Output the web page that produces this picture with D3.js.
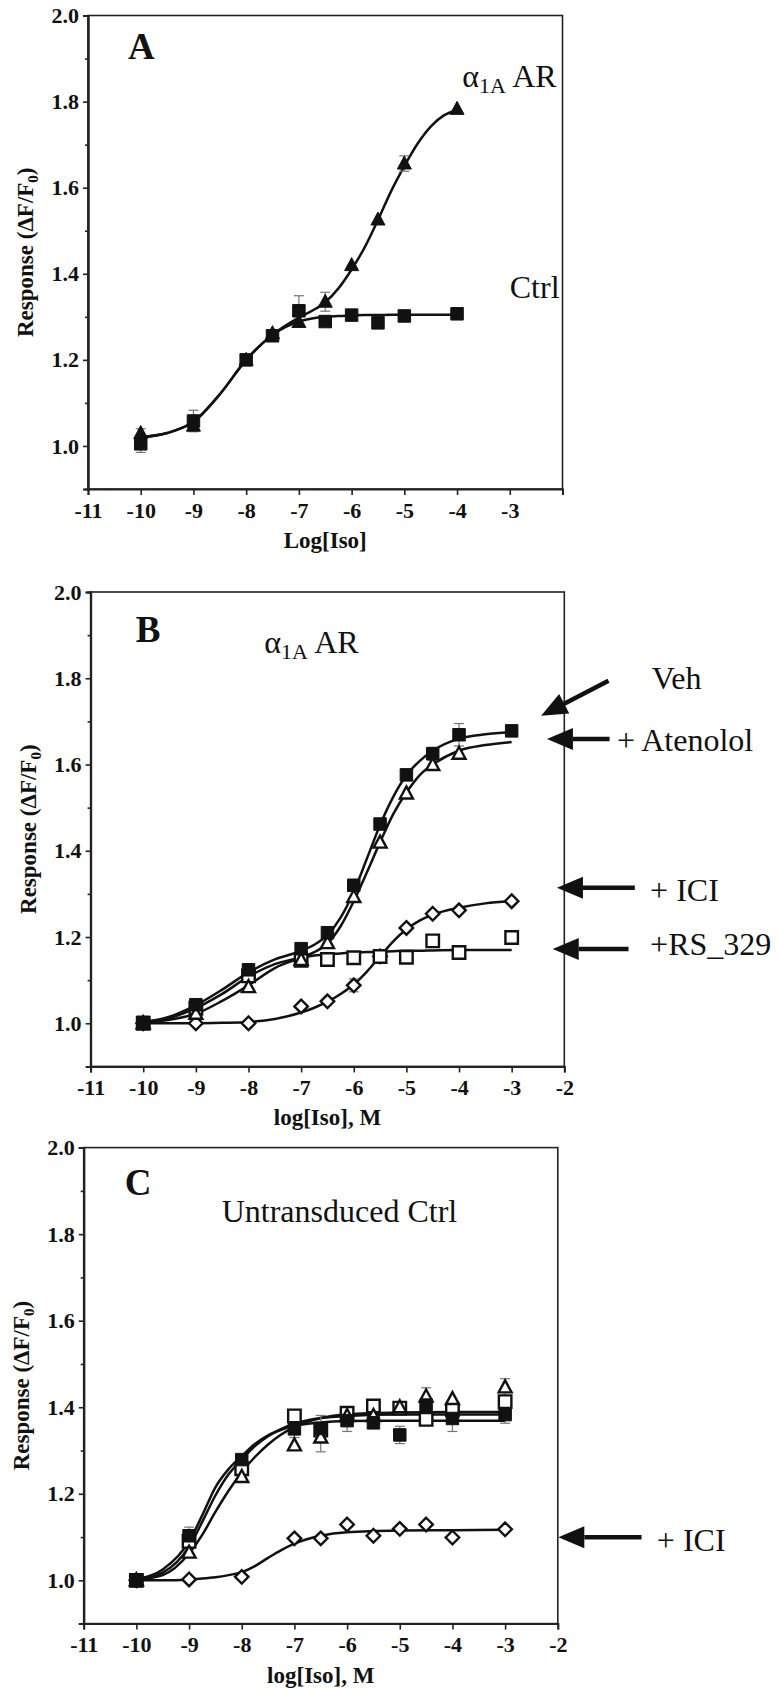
<!DOCTYPE html>
<html>
<head>
<meta charset="utf-8">
<script src="https://cdnjs.cloudflare.com/ajax/libs/d3/7.8.5/d3.min.js"></script>
<style>
  body { margin: 0; background: #fff; }
  svg { display: block; }
  text { font-family: "Liberation Serif", "Times New Roman", serif; fill: #111; }
</style>
</head>
<body>
<svg id="fig" width="781" height="1690"></svg>
<script>
// ---- panel A : alpha1A AR vs Ctrl ----
var xA = [-10, -9, -8, -7.5, -7, -6.5, -6, -5.5, -5, -4];
var aAlpha    = [1.03, 1.047, 1.20, 1.262, 1.288, 1.335, 1.42, 1.526, 1.656, 1.783];
var aAlphaErr = [0.01, 0, 0, 0, 0, 0.022, 0, 0, 0.018, 0];
var aCtrl     = [1.005, 1.058, 1.20, 1.256, 1.314, 1.289, 1.304, 1.286, 1.302, 1.307];
var aCtrlErr  = [0.02, 0.025, 0, 0, 0.035, 0, 0, 0, 0, 0.01];

var fitXA     = [-10, -9.5, -9, -8.5, -8, -7.5, -7, -6.75, -6.5, -6.25, -6, -5.75, -5.5, -5.25, -5, -4.75, -4.5, -4.25, -4];
var aAlphaFit = [1.02, 1.03, 1.056, 1.12, 1.20, 1.258, 1.298, 1.314, 1.334, 1.366, 1.41, 1.462, 1.525, 1.592, 1.65, 1.702, 1.742, 1.768, 1.78];
var aCtrlFit  = [1.02, 1.03, 1.056, 1.12, 1.20, 1.258, 1.289, 1.296, 1.300, 1.302, 1.303, 1.304, 1.304, 1.305, 1.305, 1.305, 1.305, 1.305, 1.305];

// ---- panel B : alpha1A AR with antagonists ----
var xB = [-10, -9, -8, -7, -6.5, -6, -5.5, -5, -4.5, -4, -3];
var bVeh    = [1.002, 1.043, 1.124, 1.173, 1.21, 1.32, 1.462, 1.576, 1.625, 1.669, 1.678];
var bVehErr = [0, 0, 0, 0, 0, 0, 0, 0, 0.015, 0.026, 0];
var bAten   = [1.0, 1.022, 1.084, 1.147, 1.186, 1.293, 1.419, 1.533, 1.599, 1.625, null];
var bRs     = [1.0, 1.035, 1.11, 1.146, 1.148, 1.152, 1.155, 1.153, 1.191, 1.164, 1.199];
var bIci    = [1.0, 1.0, 1.0, 1.039, 1.051, 1.088, 1.155, 1.221, 1.254, 1.262, 1.283];
var bIciErr = [0, 0, 0, 0, 0, 0.015, 0, 0, 0, 0, 0];

var fitXB   = [-10, -9.5, -9, -8.5, -8, -7.5, -7, -6.75, -6.5, -6.25, -6, -5.75, -5.5, -5.25, -5, -4.75, -4.5, -4, -3.5, -3];
var bVehFit  = [1.003, 1.015, 1.042, 1.078, 1.118, 1.148, 1.168, 1.182, 1.205, 1.245, 1.305, 1.382, 1.46, 1.525, 1.575, 1.608, 1.632, 1.660, 1.670, 1.675];
var bAtenFit = [1.002, 1.008, 1.022, 1.052, 1.088, 1.128, 1.152, 1.165, 1.185, 1.225, 1.283, 1.350, 1.42, 1.485, 1.535, 1.575, 1.600, 1.632, 1.645, 1.652];
var bRsFit   = [1.002, 1.012, 1.035, 1.068, 1.108, 1.137, 1.152, 1.157, 1.160, 1.162, 1.164, 1.165, 1.166, 1.167, 1.168, 1.168, 1.169, 1.170, 1.170, 1.170];
var bIciFit  = [1.0, 1.0, 1.0, 1.001, 1.003, 1.01, 1.025, 1.036, 1.05, 1.068, 1.09, 1.12, 1.155, 1.19, 1.218, 1.238, 1.252, 1.268, 1.278, 1.283];

// ---- panel C : untransduced control ----
var xC = [-10, -9, -8, -7, -6.5, -6, -5.5, -5, -4.5, -4, -3];
var cVeh     = [1.0, 1.103, 1.279, 1.35, 1.351, 1.369, 1.364, 1.336, 1.405, 1.374, 1.383];
var cVehErr  = [0.015, 0.02, 0, 0.02, 0.03, 0.025, 0, 0.02, 0.04, 0.03, 0.02];
var cAten    = [1.0, 1.064, 1.239, 1.312, 1.33, 1.38, 1.38, 1.40, 1.425, 1.419, 1.446];
var cAtenErr = [0, 0, 0, 0, 0.033, 0, 0, 0, 0, 0, 0.02];
var cRs      = [1.0, 1.09, 1.258, 1.38, 1.347, 1.386, 1.403, 1.398, 1.372, 1.394, 1.413];
var cIci     = [1.0, 1.002, 1.008, 1.097, 1.097, 1.129, 1.103, 1.119, 1.129, 1.099, 1.118];

var fitXC    = [-10, -9.5, -9, -8.75, -8.5, -8.25, -8, -7.75, -7.5, -7.25, -7, -6.5, -6, -5, -4, -3];
var cVehFit  = [1.003, 1.025, 1.09, 1.15, 1.215, 1.257, 1.287, 1.315, 1.335, 1.348, 1.357, 1.365, 1.368, 1.369, 1.369, 1.369];
var cRsFit   = [1.002, 1.018, 1.078, 1.135, 1.196, 1.245, 1.279, 1.31, 1.333, 1.35, 1.362, 1.375, 1.380, 1.383, 1.383, 1.383];
var cAtenFit = [1.001, 1.012, 1.062, 1.105, 1.158, 1.207, 1.250, 1.285, 1.314, 1.337, 1.354, 1.375, 1.384, 1.388, 1.389, 1.389];
var cIciFit  = [1.0, 1.0, 1.002, 1.004, 1.007, 1.012, 1.019, 1.033, 1.052, 1.07, 1.085, 1.103, 1.111, 1.115, 1.116, 1.117];

// axis ticks
var yMajor = [1.0, 1.2, 1.4, 1.6, 1.8, 2.0];
var yMinor = [1.1, 1.3, 1.5, 1.7, 1.9];
var xTicks = [-11, -10, -9, -8, -7, -6, -5, -4, -3, -2];

var svg = d3.select("#fig");

// marker shapes
function sq(s) { return "M" + (-s/2) + "," + (-s/2) + "h" + s + "v" + s + "h" + (-s) + "Z"; }
function tri(w, h) { return "M0," + (-h*0.58) + "L" + (w/2) + "," + (h*0.42) + "L" + (-w/2) + "," + (h*0.42) + "Z"; }
function dia(s) { return "M0," + (-s/2) + "L" + (s/2) + ",0L0," + (s/2) + "L" + (-s/2) + ",0Z"; }

var markers = {
  fsq:  { d: sq(12.5),    fill: "#111", stroke: "#111", sw: 1 },
  osq:  { d: sq(12.5),    fill: "#fff", stroke: "#111", sw: 2.4 },
  ftri: { d: tri(14, 13), fill: "#111", stroke: "#111", sw: 1 },
  otri: { d: tri(13, 12), fill: "#fff", stroke: "#111", sw: 2.4 },
  odia: { d: dia(13.5),   fill: "#fff", stroke: "#111", sw: 2.4 }
};

function panel(p) {
  var g = svg.append("g");
  var x = d3.scaleLinear().domain([-11, -2]).range([p.left, p.right]);
  var y = d3.scaleLinear().domain([0.9, 2.0]).range([p.bottom, p.top]);

  // frame
  g.append("rect")
    .attr("x", p.left).attr("y", p.top)
    .attr("width", p.right - p.left).attr("height", p.bottom - p.top)
    .attr("fill", "none").attr("stroke", "#222").attr("stroke-width", 1.6);

  // y axis: major + minor
  g.append("g").attr("transform", "translate(" + p.left + ",0)")
    .call(d3.axisLeft(y).tickValues(yMajor).tickFormat(d3.format(".1f")).tickSize(5).tickPadding(4));
  g.append("g").attr("transform", "translate(" + p.left + ",0)")
    .call(d3.axisLeft(y).tickValues(yMinor).tickFormat("").tickSize(3));

  // x axis
  g.append("g").attr("transform", "translate(0," + p.bottom + ")")
    .call(d3.axisBottom(x).tickValues(xTicks)
      .tickFormat(function(d) { return (p.hideLast && d === -2) ? "" : d; })
      .tickSize(6).tickPadding(7));

  g.selectAll(".domain").attr("stroke", "#222").attr("stroke-width", 2);
  g.selectAll(".tick line").attr("stroke", "#222").attr("stroke-width", 1.6);
  g.selectAll(".tick text")
    .style("font-family", "'Liberation Serif', 'Times New Roman', serif")
    .style("font-weight", "bold").style("font-size", "22px").attr("fill", "#111");

  // axis titles
  var yl = g.append("text")
    .attr("transform", "translate(" + (p.left - 55) + "," + ((p.top + p.bottom) / 2) + ") rotate(-90)")
    .attr("text-anchor", "middle").style("font-weight", "bold").style("font-size", "23px");
  yl.append("tspan").text("Response (\u0394F/F");
  yl.append("tspan").text("0").style("font-size", "15px").attr("dy", 5);
  yl.append("tspan").text(")").attr("dy", -5);

  g.append("text")
    .attr("x", (p.left + p.right) / 2).attr("y", p.bottom + 59)
    .attr("text-anchor", "middle").style("font-weight", "bold").style("font-size", "23px")
    .text(p.xTitle);

  // fitted curves
  var line = d3.line().curve(d3.curveMonotoneX)
    .x(function(d) { return x(d[0]); }).y(function(d) { return y(d[1]); });
  p.fits.forEach(function(f) {
    g.append("path")
      .datum(f.xs.map(function(v, i) { return [v, f.ys[i]]; }))
      .attr("d", line).attr("fill", "none").attr("stroke", "#111").attr("stroke-width", 2.5);
  });

  // error bars
  p.series.forEach(function(s) {
    if (!s.err) return;
    var pts = s.xs.map(function(v, i) { return { x: v, y: s.ys[i], e: s.err[i] }; })
      .filter(function(d) { return d.y != null && d.e > 0; });
    var eb = g.append("g").attr("stroke", "#777").attr("stroke-width", 1.2);
    pts.forEach(function(d) {
      eb.append("line").attr("x1", x(d.x)).attr("x2", x(d.x))
        .attr("y1", y(d.y - d.e)).attr("y2", y(d.y + d.e));
      eb.append("line").attr("x1", x(d.x) - 5).attr("x2", x(d.x) + 5)
        .attr("y1", y(d.y + d.e)).attr("y2", y(d.y + d.e));
      eb.append("line").attr("x1", x(d.x) - 5).attr("x2", x(d.x) + 5)
        .attr("y1", y(d.y - d.e)).attr("y2", y(d.y - d.e));
    });
  });

  // markers
  p.series.forEach(function(s) {
    var m = markers[s.shape];
    var pts = s.xs.map(function(v, i) { return [v, s.ys[i]]; })
      .filter(function(d) { return d[1] != null; });
    g.append("g").selectAll("path").data(pts).enter().append("path")
      .attr("transform", function(d) { return "translate(" + x(d[0]) + "," + y(d[1]) + ")"; })
      .attr("d", m.d).attr("fill", m.fill).attr("stroke", m.stroke)
      .attr("stroke-width", m.sw).attr("stroke-linejoin", "miter");
  });

  // panel letter
  g.append("text").attr("x", x(p.letterAt[0])).attr("y", y(p.letterAt[1]))
    .style("font-weight", "bold").style("font-size", "37px").text(p.letter);

  // text labels
  p.labels.forEach(function(l) {
    var t = g.append("text").attr("x", x(l.at[0])).attr("y", y(l.at[1]))
      .style("font-size", "32px");
    if (l.alpha) {
      t.append("tspan").text("\u03b1");
      t.append("tspan").text("1A").style("font-size", "22px").attr("dy", 6);
      t.append("tspan").text(" AR").attr("dy", -6);
    } else {
      t.text(l.text);
    }
  });

  // arrows
  p.arrows.forEach(function(a) {
    var x1 = x(a.tail[0]), y1 = y(a.tail[1]), x2 = x(a.tip[0]), y2 = y(a.tip[1]);
    var ang = Math.atan2(y2 - y1, x2 - x1), hl = 26, hw = 11;
    var bx = x2 - hl * Math.cos(ang), by = y2 - hl * Math.sin(ang);
    g.append("line").attr("x1", x1).attr("y1", y1).attr("x2", bx).attr("y2", by)
      .attr("stroke", "#111").attr("stroke-width", 4.5);
    g.append("path")
      .attr("d", "M" + x2 + "," + y2 +
        "L" + (bx + hw * Math.sin(ang)) + "," + (by - hw * Math.cos(ang)) +
        "L" + (bx - hw * Math.sin(ang)) + "," + (by + hw * Math.cos(ang)) + "Z")
      .attr("fill", "#111");
  });
}

panel({
  left: 88, right: 562.5, top: 15.5, bottom: 489, hideLast: true,
  xTitle: "Log[Iso]", letter: "A", letterAt: [-10.24, 1.899],
  fits: [{ xs: fitXA, ys: aCtrlFit }, { xs: fitXA, ys: aAlphaFit }],
  series: [
    { xs: xA, ys: aAlpha, err: aAlphaErr, shape: "ftri" },
    { xs: xA, ys: aCtrl, err: aCtrlErr, shape: "fsq" }
  ],
  labels: [
    { alpha: true, at: [-3.9, 1.834] },
    { text: "Ctrl", at: [-3.0, 1.344] }
  ],
  arrows: []
});

panel({
  left: 90.6, right: 564.3, top: 592, bottom: 1066.4,
  xTitle: "log[Iso], M", letter: "B", letterAt: [-10.14, 1.885],
  fits: [{ xs: fitXB, ys: bIciFit }, { xs: fitXB, ys: bRsFit },
         { xs: fitXB, ys: bAtenFit }, { xs: fitXB, ys: bVehFit }],
  series: [
    { xs: xB, ys: bIci, err: bIciErr, shape: "odia" },
    { xs: xB, ys: bRs, shape: "osq" },
    { xs: xB, ys: bAten, shape: "otri" },
    { xs: xB, ys: bVeh, err: bVehErr, shape: "fsq" }
  ],
  labels: [
    { alpha: true, at: [-7.7, 1.858] },
    { text: "Veh", at: [-0.34, 1.775] },
    { text: "+ Atenolol", at: [-1.0, 1.632] },
    { text: "+ ICI", at: [-0.37, 1.283] },
    { text: "+RS_329", at: [-0.37, 1.159] }
  ],
  arrows: [
    { tail: [-1.16, 1.794], tip: [-2.44, 1.713] },
    { tail: [-1.14, 1.659], tip: [-2.33, 1.659] },
    { tail: [-0.66, 1.314], tip: [-2.14, 1.314] },
    { tail: [-0.78, 1.172], tip: [-2.22, 1.172] }
  ]
});

panel({
  left: 83.7, right: 557.8, top: 1147.6, bottom: 1623.6,
  xTitle: "log[Iso], M", letter: "C", letterAt: [-10.22, 1.891],
  fits: [{ xs: fitXC, ys: cIciFit }, { xs: fitXC, ys: cVehFit },
         { xs: fitXC, ys: cRsFit }, { xs: fitXC, ys: cAtenFit }],
  series: [
    { xs: xC, ys: cIci, shape: "odia" },
    { xs: xC, ys: cRs, shape: "osq" },
    { xs: xC, ys: cAten, err: cAtenErr, shape: "otri" },
    { xs: xC, ys: cVeh, err: cVehErr, shape: "fsq" }
  ],
  labels: [
    { text: "Untransduced Ctrl", at: [-8.38, 1.829] },
    { text: "+ ICI", at: [-0.12, 1.068] }
  ],
  arrows: [
    { tail: [-0.41, 1.0995], tip: [-1.99, 1.0995] }
  ]
});
</script>
</body>
</html>
